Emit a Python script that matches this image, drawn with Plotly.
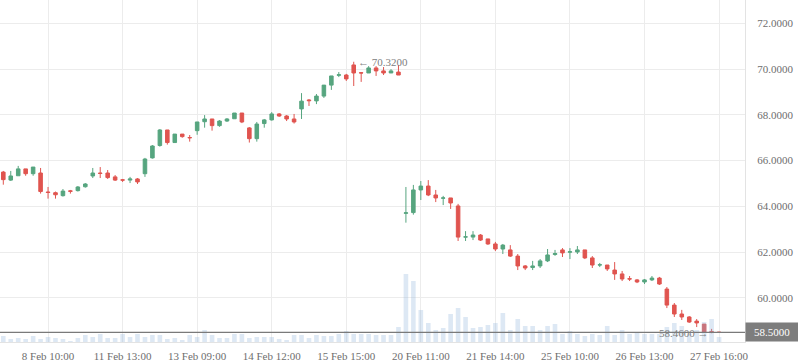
import plotly.graph_objects as go

# ---- data ----
opens = [65.50, 65.15, 65.34, 65.64, 65.43, 65.46, 64.63, 64.60, 64.47, 64.68,
         64.69, 64.86, 65.33, 65.46, 65.46, 65.29, 65.16, 65.15, 65.20, 65.43,
         66.12, 66.66, 67.34, 66.79, 67.16, 67.01, 67.31, 67.70, 67.82, 67.53,
         67.73, 67.83, 68.08, 67.43, 66.96, 67.62, 67.78, 68.04, 67.95, 67.82,
         68.26, 68.65, 68.61, 68.82, 69.30, 69.73, 69.74, 70.18, 69.84, 69.83,
         70.05, 69.92, 69.83, 69.87, 63.70, 63.73, 64.72, 64.89, 64.50, 64.36,
         64.37, 64.02, 62.66, 62.66, 62.75, 62.58, 62.36, 62.14, 62.10, 61.83,
         61.40, 61.33, 61.40, 61.62, 61.90, 62.10, 62.00, 62.01, 62.10, 61.75,
         61.44, 61.44, 61.22, 61.05, 60.84, 60.79, 60.70, 60.79, 60.87, 60.39,
         59.69, 59.30, 59.17, 58.99, 58.86, 58.53, 58.50]
highs = [65.55, 65.55, 65.77, 65.64, 65.72, 65.68, 64.85, 64.65, 64.76, 64.72,
         64.89, 65.02, 65.68, 65.72, 65.59, 65.37, 65.20, 65.29, 65.24, 66.12,
         66.68, 67.38, 67.34, 67.16, 67.16, 67.12, 67.69, 67.99, 67.82, 67.77,
         67.86, 68.08, 68.08, 67.47, 67.69, 67.82, 68.12, 68.08, 67.99, 68.04,
         68.95, 68.69, 68.91, 69.30, 69.70, 69.87, 69.79, 70.32, 69.87, 70.13,
         70.13, 70.09, 70.00, 70.18, 64.85, 64.94, 65.11, 65.15, 64.72, 64.46,
         64.37, 64.11, 62.92, 62.92, 62.79, 62.58, 62.45, 62.36, 62.31, 61.92,
         61.44, 61.62, 61.70, 62.14, 62.10, 62.18, 62.18, 62.27, 62.10, 61.83,
         61.53, 61.44, 61.57, 61.18, 60.96, 60.83, 60.83, 60.96, 60.92, 60.48,
         59.78, 59.48, 59.21, 59.08, 58.86, 58.65, 58.50]
lows = [64.95, 65.11, 65.34, 65.34, 65.34, 64.56, 64.34, 64.34, 64.43, 64.56,
        64.65, 64.82, 65.24, 65.24, 65.20, 65.11, 65.07, 65.02, 64.98, 65.29,
        66.09, 66.61, 66.70, 66.79, 67.00, 66.83, 67.13, 67.44, 67.31, 67.48,
        67.69, 67.83, 67.64, 66.79, 66.83, 67.44, 67.75, 67.91, 67.73, 67.62,
        67.82, 68.39, 68.47, 68.74, 69.09, 69.65, 69.48, 69.26, 69.44, 69.83,
        69.70, 69.74, 69.83, 69.74, 63.29, 63.64, 64.28, 64.45, 64.19, 64.06,
        63.89, 62.49, 62.49, 62.53, 62.49, 62.32, 62.05, 61.92, 61.79, 61.22,
        61.22, 61.22, 61.31, 61.57, 61.84, 61.79, 61.70, 61.92, 61.70, 61.31,
        61.35, 61.18, 60.79, 60.74, 60.74, 60.65, 60.61, 60.74, 60.57, 59.56,
        59.17, 59.04, 58.91, 58.73, 58.51, 58.46, 58.50]
closes = [65.17, 65.33, 65.64, 65.43, 65.72, 64.65, 64.61, 64.51, 64.67, 64.66,
          64.85, 64.98, 65.46, 65.44, 65.26, 65.15, 65.15, 65.20, 65.07, 66.07,
          66.64, 67.34, 66.79, 67.16, 67.05, 67.00, 67.69, 67.82, 67.53, 67.73,
          67.82, 68.08, 67.69, 66.96, 67.60, 67.78, 68.04, 67.95, 67.82, 67.69,
          68.60, 68.62, 68.82, 69.30, 69.70, 69.75, 69.57, 69.83, 69.83, 70.05,
          69.92, 69.83, 69.92, 69.74, 63.72, 64.72, 64.89, 64.50, 64.37, 64.37,
          64.15, 62.66, 62.67, 62.75, 62.53, 62.36, 62.14, 62.31, 61.83, 61.40,
          61.31, 61.40, 61.62, 61.88, 61.94, 61.97, 62.02, 62.10, 61.75, 61.44,
          61.45, 61.27, 61.05, 60.83, 60.83, 60.70, 60.79, 60.87, 60.61, 59.69,
          59.30, 59.17, 58.95, 58.91, 58.51, 58.51, 58.50]
volumes = [6, 3, 4, 3, 6, 3, 5, 4, 3, 1, 4, 7, 5, 8, 4, 4, 8, 5, 8, 5,
           7, 7, 3, 4, 2, 7, 5, 12, 7, 4, 4, 8, 8, 4, 5, 5, 5, 3, 2, 7,
           7, 4, 7, 6, 6, 8, 11, 8, 8, 8, 7, 7, 7, 15, 68, 61, 32, 19, 12, 14,
           28, 34, 25, 14, 15, 17, 19, 29, 12, 23, 16, 16, 12, 16, 18, 8, 11, 8, 6, 8,
           7, 16, 7, 12, 8, 10, 8, 8, 8, 15, 19, 16, 8, 12, 20, 23, 5]
tick_index = [6, 16, 26, 36, 46, 56, 66, 76, 86, 96]
tick_labels = ["8 Feb 10:00", "11 Feb 13:00", "13 Feb 09:00", "14 Feb 12:00",
               "15 Feb 15:00", "20 Feb 11:00", "21 Feb 14:00", "25 Feb 10:00",
               "26 Feb 13:00", "27 Feb 16:00"]
price_ticks = [60, 62, 64, 66, 68, 70, 72]
last_price = 58.50
max_idx, max_price = 47, 70.32
min_idx, min_price = 95, 58.46

idx = list(range(len(opens)))

GREEN = "#56a57f"
RED = "#e0544f"
FONT = "Liberation Serif"

fig = go.Figure()
fig.add_trace(go.Candlestick(
    x=idx, open=opens, high=highs, low=lows, close=closes,
    increasing=dict(line=dict(color=GREEN, width=1), fillcolor=GREEN),
    decreasing=dict(line=dict(color=RED, width=1), fillcolor=RED),
    whiskerwidth=0, hoverinfo="skip", showlegend=False,
))
fig.add_trace(go.Bar(
    x=idx, y=volumes, yaxis="y2", width=0.62,
    marker=dict(color="rgba(150,185,220,0.32)", line=dict(width=0)),
    hoverinfo="skip", showlegend=False,
))

fig.add_shape(type="line", xref="paper", yref="y", x0=0, x1=1,
              y0=last_price, y1=last_price,
              line=dict(color="#7a7a7a", width=1.2), layer="above")

fig.add_annotation(xref="paper", yref="y", x=1, y=last_price,
                   xanchor="left", yanchor="middle", text="58.5000",
                   showarrow=False, bgcolor="#7d7d7d", borderpad=3,
                   width=46, height=12, align="center",
                   font=dict(family=FONT, size=11, color="white"))
fig.add_annotation(x=max_idx, y=max_price, xanchor="left", yanchor="middle",
                   xshift=2, text="\u2190 70.3200", showarrow=False,
                   font=dict(family=FONT, size=11, color="#808080"))
fig.add_annotation(x=min_idx, y=min_price, xanchor="right", yanchor="middle",
                   xshift=-1, text="58.4600 \u2192", showarrow=False,
                   font=dict(family=FONT, size=11, color="#808080"))

fig.update_layout(
    width=798, height=363,
    margin=dict(l=0, r=53, t=0, b=21),
    paper_bgcolor="white", plot_bgcolor="white",
    hovermode=False, showlegend=False, boxgap=0.32,
    xaxis=dict(range=[-0.443, 99.48], tickmode="array", tickvals=tick_index,
               ticktext=tick_labels, showgrid=True, gridcolor="#ececec",
               gridwidth=1, zeroline=False, showline=True, linecolor="#e3e3e3",
               ticks="", ticklabelstandoff=4, rangeslider=dict(visible=False),
               tickfont=dict(family=FONT, size=11, color="#6e6e6e")),
    yaxis=dict(range=[58.077, 73.018], side="right", tickmode="array",
               tickvals=price_ticks, tickformat=".4f", showgrid=True,
               gridcolor="#ececec", gridwidth=1, zeroline=False, showline=True,
               linecolor="#e3e3e3", ticks="", ticklabelstandoff=9,
               tickfont=dict(family=FONT, size=11, color="#6e6e6e")),
    yaxis2=dict(overlaying="y", range=[0, 342], visible=False, showgrid=False,
                zeroline=False),
)

fig.write_html("out.html", config={"displayModeBar": False},
               post_script="document.body.style.margin='0';"
                           "document.body.style.overflow='hidden';")
